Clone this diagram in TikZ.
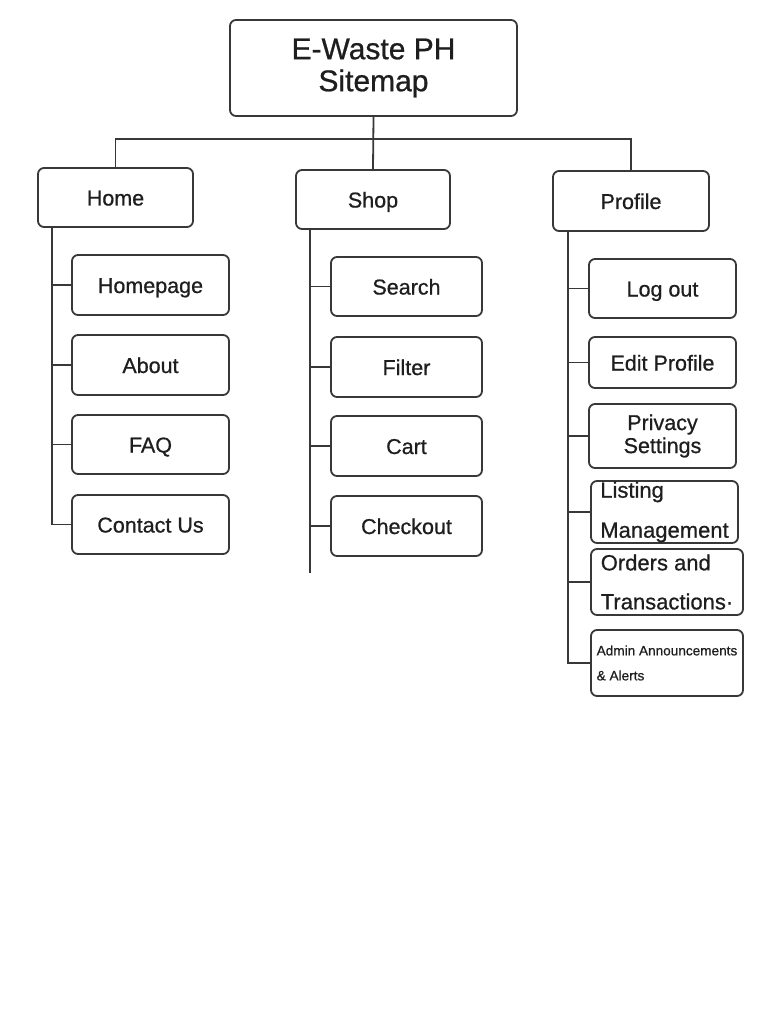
\documentclass[tikz,border=0pt]{standalone}
\usepackage{fontspec}
\setmainfont{Liberation Sans}
\newfontfamily\mfont{Liberation Sans}[FakeBold=0.7]
\definecolor{linec}{HTML}{383838}
\definecolor{textc}{HTML}{1E1E1E}
\begin{document}
\begin{tikzpicture}[x=1pt,y=-1pt,
  box/.style={draw=linec, line width=1.8pt, rounded corners=6pt, fill=white, text=textc,
              inner sep=0pt, font=\mfont\fontsize{21.5}{24}\selectfont},
  one/.style={box, text height=16pt, text depth=0pt},
  link/.style={draw=linec, line width=1.8pt},
  lbox/.style={box, align=left}]
\fill[white] (0,0) rectangle (768,1024);
\useasboundingbox (0,0) rectangle (768,1024);

% title and top level
\node[box, minimum width=287pt, minimum height=96pt, align=center,
      font=\mfont\fontsize{30}{32}\selectfont] (title) at (373.5,68) {E-Waste PH\\Sitemap};
\node[one, minimum width=155pt, minimum height=59pt] (home) at (115.5,197.5) {Home};
\node[one, minimum width=154pt, minimum height=59pt] (shop) at (373,199.5) {Shop};
\node[one, minimum width=156pt, minimum height=60pt] (profile) at (631,201) {Profile};

% Home children
\node[one, minimum width=157pt, minimum height=60pt] (homepage) at (150.5,285) {Homepage};
\node[one, minimum width=157pt, minimum height=60pt] (about) at (150.5,365) {About};
\node[one, minimum width=157pt, minimum height=59pt] (faq) at (150.5,444.5) {FAQ};
\node[one, minimum width=157pt, minimum height=59pt] (contact) at (150.5,524.5) {Contact Us};

% Shop children
\node[one, minimum width=151pt, minimum height=59pt] (search) at (406.5,286.5) {Search};
\node[one, minimum width=151pt, minimum height=60pt] (filter) at (406.5,367) {Filter};
\node[one, minimum width=151pt, minimum height=60pt] (cart) at (406.5,446) {Cart};
\node[one, minimum width=151pt, minimum height=60pt] (checkout) at (406.5,526) {Checkout};

% Profile children
\node[one, minimum width=147pt, minimum height=59pt] (logout) at (662.5,288.5) {Log out};
\node[one, minimum width=147pt, minimum height=51pt] (edit) at (662.5,362.5) {Edit Profile};
\node[box, minimum width=147pt, minimum height=64pt, align=center,
      font=\mfont\fontsize{21.5}{23}\selectfont] (privacy) at (662.5,436) {Privacy\\Settings};
\node[lbox, minimum width=147pt, minimum height=62pt,
      font=\mfont\fontsize{22}{40}\selectfont] (listing) at (664.5,512) {Listing\\Management};
\node[lbox, minimum width=152pt, minimum height=66pt,
      font=\mfont\fontsize{22}{39}\selectfont] (orders) at (667,582) {Orders and\\Transactions·};
\node[lbox, minimum width=152pt, minimum height=66pt, xshift=2pt,
      font=\mfont\fontsize{13.6}{25}\selectfont] (admin) at (665,663) {Admin Announcements\\\& Alerts};

% top bus
\coordinate (bus) at (374,139);
\draw[link] (title.south) -- (shop.north);
\draw[link] (home.north) -- (home.north |- bus) -- (profile.north |- bus) -- (profile.north);

% Home trunk
\coordinate (ht) at ([xshift=15pt]home.south west);
\draw[link] (ht) |- (contact.west);
\foreach \n in {homepage,about,faq}
  \draw[link] (\n.west) -- (\n.west -| ht);

% Shop trunk
\coordinate (st) at ([xshift=15pt]shop.south west);
\coordinate (send) at (311,573);
\draw[link] (st) -- (st |- send);
\foreach \n in {search,filter,cart,checkout}
  \draw[link] (\n.west) -- (\n.west -| st);

% Profile trunk
\coordinate (pt) at ([xshift=16pt]profile.south west);
\draw[link] (pt) |- (admin.west);
\foreach \n in {logout,edit,privacy,listing,orders}
  \draw[link] (\n.west) -- (\n.west -| pt);
\end{tikzpicture}
\end{document}
